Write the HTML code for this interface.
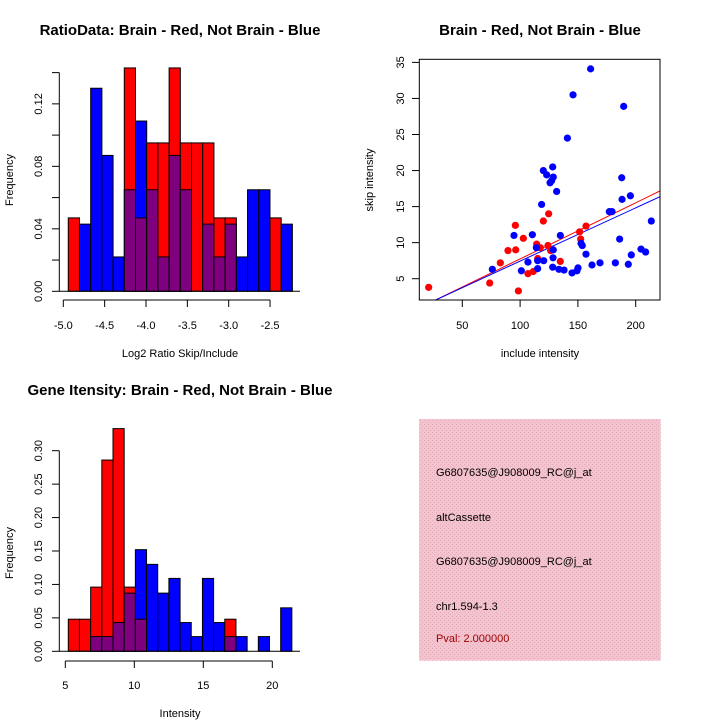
<!DOCTYPE html>
<html><head><meta charset="utf-8">
<style>
html,body{margin:0;padding:0;background:#fff;}
svg{display:block;font-family:"Liberation Sans",Arial,sans-serif;}
</style></head>
<body>
<svg id="c" width="720" height="720" viewBox="0 0 720 720" xmlns="http://www.w3.org/2000/svg">
<defs>
<pattern id="hatch" width="4" height="4" patternUnits="userSpaceOnUse">
<rect width="4" height="4" fill="#f2c4cf"/>
<rect x="0" y="0" width="1" height="1" fill="#e7a9b8"/>
<rect x="2" y="2" width="1" height="1" fill="#e7a9b8"/>
</pattern>
</defs>
</svg>
<script>
// ---- Ratio histogram data ----
const ratioStart = -4.94;
const ratioBinWidth = 0.1355;
const ratioRed  = [0.047,0,0,0,0,0.143,0.047,0.095,0.095,0.143,0.095,0.095,0.095,0.047,0.047,0,0,0,0.047,0];
const ratioBlue = [0,0.043,0.130,0.087,0.022,0.065,0.109,0.065,0.022,0.087,0.065,0,0.043,0.022,0.043,0.022,0.065,0.065,0,0.043];
const ratioXTicks = [-5.0,-4.5,-4.0,-3.5,-3.0,-2.5];
const ratioXLabels = ["-5.0","-4.5","-4.0","-3.5","-3.0","-2.5"];
const ratioYTicks = [0,0.02,0.04,0.06,0.08,0.10,0.12,0.14];
const ratioYLabels = ["0.00","","0.04","","0.08","","0.12",""];

// ---- Intensity histogram data ----
const intStart = 5.217;
const intBinWidth = 0.81;
const intRed  = [0.048,0.048,0.096,0.286,0.333,0.096,0.048,0,0,0,0,0,0,0,0.048,0,0,0,0,0];
const intBlue = [0,0,0.022,0.022,0.043,0.087,0.152,0.130,0.087,0.109,0.043,0.022,0.109,0.043,0.022,0.022,0,0.022,0,0.065];
const intXTicks = [5,10,15,20];
const intYTicks = [0,0.05,0.10,0.15,0.20,0.25,0.30];
const intYLabels = ["0.00","0.05","0.10","0.15","0.20","0.25","0.30"];

// ---- Scatter data ----
const redX = [20.9,73.7,82.9,89.5,95.9,96.2,98.5,102.8,106.8,111.4,114.3,115.2,117.5,120.1,124.1,124.7,126.4,134.8,151.5,152.4,157.0];
const redY = [3.8,4.4,7.2,8.9,12.4,9.0,3.3,10.6,5.7,6.0,9.8,7.8,9.3,13.0,9.6,14.0,8.9,7.4,11.5,10.5,12.3];
const blueX = [76.0,94.7,101.1,106.8,110.6,114.1,115.2,115.2,118.6,120.1,120.4,123.0,125.9,127.3,128.2,128.5,128.7,128.7,128.2,131.6,133.6,134.8,138.0,140.9,144.9,145.8,149.2,150.1,152.7,153.8,157.0,161.0,162.2,169.1,177.2,179.5,182.4,186.1,187.9,188.2,189.6,193.6,195.4,196.2,204.6,208.6,213.5];
const blueY = [6.3,11.0,6.1,7.3,11.1,9.3,7.5,6.4,15.3,20.0,7.5,19.4,18.3,18.6,20.5,7.9,19.1,9.0,6.6,17.1,6.3,11.0,6.2,24.5,5.8,30.5,6.1,6.5,9.9,9.6,8.4,34.1,6.9,7.2,14.3,14.3,7.2,10.5,19.0,16.0,28.9,7.0,16.5,8.3,9.1,8.7,13.0];
const redFit = [-0.05,0.0779];
const blueFit = [0.06,0.0738];
const scXTicks = [50,100,150,200];
const scYTicks = [5,10,15,20,25,30,35];

const svg = document.getElementById('c');
const NS = 'http://www.w3.org/2000/svg';
function mk(tag, attrs, parent){
  const e = document.createElementNS(NS, tag);
  for (const k in attrs) e.setAttribute(k, attrs[k]);
  (parent||svg).appendChild(e);
  return e;
}
function txt(x,y,s,opts,parent){
  const o = Object.assign({x:x,y:y,'font-size':11,'text-anchor':'middle',fill:'#000'},opts||{});
  const t = mk('text',o,parent); t.textContent = s; return t;
}

// ===== Panel 1: Ratio histogram =====
const g1 = mk('g',{});


const rx = v => 63.3 + (v + 5.0) * 82.7;
const ry = v => 291.3 - v * 1562;
const t1 = txt(180,35,'RatioData: Brain - Red, Not Brain - Blue',{'font-size':15,'font-weight':'bold'},g1);


function hist(g, start, w, red, blue, xs, ys, y0, namePrefix){
  for (let i=0;i<red.length;i++){
    const a = start + i*w, b = a + w;
    const x0 = xs(a), x1 = xs(b);
    const hi = Math.max(red[i], blue[i]), lo = Math.min(red[i], blue[i]);
    if (hi <= 0) continue;
    const topCol = red[i] >= blue[i] ? '#ff0000' : '#0000ff';
    const r = mk('rect',{x:x0,y:ys(hi),width:x1-x0,height:y0-ys(hi),fill:topCol,stroke:'#000','stroke-width':1},g);
    
    
    if (lo > 0){
      const p = mk('rect',{x:x0,y:ys(lo),width:x1-x0,height:y0-ys(lo),fill:'#7f007f',stroke:'#000','stroke-width':1},g);
      
      
    }
  }
}
hist(g1, ratioStart, ratioBinWidth, ratioRed, ratioBlue, rx, ry, 291.3, 'ratio');
mk('line',{x1:59,y1:291.3,x2:300,y2:291.3,stroke:'#000'},g1);
mk('line',{x1:59.3,y1:ry(0.14),x2:59.3,y2:ry(0),stroke:'#000'},g1);
ratioYTicks.forEach((v,i)=>{
  mk('line',{x1:52,y1:ry(v),x2:59.3,y2:ry(v),stroke:'#000'},g1);
  if (ratioYLabels[i]) txt(0,0,ratioYLabels[i],{transform:`translate(42,${ry(v)}) rotate(-90)`},g1);
});
mk('line',{x1:rx(-5.0),y1:300,x2:rx(-2.5),y2:300,stroke:'#000'},g1);
ratioXTicks.forEach((v,i)=>{
  mk('line',{x1:rx(v),y1:300,x2:rx(v),y2:307,stroke:'#000'},g1);
  txt(rx(v),329,ratioXLabels[i],{},g1);
});
txt(180,357,'Log2 Ratio Skip/Include',{},g1);
txt(0,0,'Frequency',{transform:'translate(13,180) rotate(-90)'},g1);

// ===== Panel 2: Scatter =====
const g2 = mk('g',{});


const sx = v => 462.3 + (v - 50) * 1.156;
const sy = v => 278.7 - (v - 5) * 7.21;
const t2 = txt(540,35,'Brain - Red, Not Brain - Blue',{'font-size':15,'font-weight':'bold'},g2);


mk('clipPath',{id:'scclip'},g2).appendChild((()=>{const r=document.createElementNS(NS,'rect');r.setAttribute('x',419.3);r.setAttribute('y',59.3);r.setAttribute('width',240.7);r.setAttribute('height',240.7);return r;})());
const lg = mk('g',{'clip-path':'url(#scclip)'},g2);
const xmin = 2, xmax = 240;
const rl = mk('line',{x1:sx(xmin),y1:sy(redFit[0]+redFit[1]*xmin),x2:sx(xmax),y2:sy(redFit[0]+redFit[1]*xmax),stroke:'#ff0000','stroke-width':1},lg);


const bl = mk('line',{x1:sx(xmin),y1:sy(blueFit[0]+blueFit[1]*xmin),x2:sx(xmax),y2:sy(blueFit[0]+blueFit[1]*xmax),stroke:'#0000ff','stroke-width':1},lg);


redX.forEach((v,i)=>{
  const c = mk('circle',{cx:sx(v),cy:sy(redY[i]),r:3.6,fill:'#ff0000'},lg);
  
  
});
blueX.forEach((v,i)=>{
  const c = mk('circle',{cx:sx(v),cy:sy(blueY[i]),r:3.6,fill:'#0000ff'},lg);
  
  
});
mk('rect',{x:419.3,y:59.3,width:240.7,height:240.7,fill:'none',stroke:'#000'},g2);
scXTicks.forEach(v=>{
  mk('line',{x1:sx(v),y1:300,x2:sx(v),y2:307,stroke:'#000'},g2);
  txt(sx(v),329,String(v),{},g2);
});
scYTicks.forEach(v=>{
  mk('line',{x1:412,y1:sy(v),x2:419.3,y2:sy(v),stroke:'#000'},g2);
  txt(0,0,String(v),{transform:`translate(404,${sy(v)}) rotate(-90)`},g2);
});
txt(540,357,'include intensity',{},g2);
txt(0,0,'skip intensity',{transform:'translate(373,180) rotate(-90)'},g2);

// ===== Panel 3: Intensity histogram =====
const g3 = mk('g',{});


const ix = v => 65.3 + (v - 5) * 13.8;
const iy = v => 651.3 - v * 668.7;
const t3 = txt(180,395,'Gene Itensity: Brain - Red, Not Brain - Blue',{'font-size':15,'font-weight':'bold'},g3);


hist(g3, intStart, intBinWidth, intRed, intBlue, ix, iy, 651.3, 'intensity');
mk('line',{x1:59,y1:651.3,x2:300,y2:651.3,stroke:'#000'},g3);
mk('line',{x1:59.3,y1:iy(0.30),x2:59.3,y2:iy(0),stroke:'#000'},g3);
intYTicks.forEach((v,i)=>{
  mk('line',{x1:52,y1:iy(v),x2:59.3,y2:iy(v),stroke:'#000'},g3);
  txt(0,0,intYLabels[i],{transform:`translate(42,${iy(v)}) rotate(-90)`},g3);
});
mk('line',{x1:ix(5),y1:661,x2:ix(20),y2:661,stroke:'#000'},g3);
intXTicks.forEach(v=>{
  mk('line',{x1:ix(v),y1:661,x2:ix(v),y2:668,stroke:'#000'},g3);
  txt(ix(v),689,String(v),{},g3);
});
txt(180,717,'Intensity',{},g3);
txt(0,0,'Frequency',{transform:'translate(13,553) rotate(-90)'},g3);

// ===== Panel 4: info box =====
const g4 = mk('g',{});


mk('rect',{x:419,y:419,width:241.7,height:241.7,fill:'url(#hatch)'},g4);
const lines = [['G6807635@J908009_RC@j_at',476,'#000'],['altCassette',521,'#000'],['G6807635@J908009_RC@j_at',565,'#000'],['chr1.594-1.3',610,'#000'],['Pval: 2.000000',642,'#9b0000']];
lines.forEach(l=>{
  const t = txt(436,l[1],l[0],{'text-anchor':'start',fill:l[2]},g4);
  
  
});
</script>
</body></html>
